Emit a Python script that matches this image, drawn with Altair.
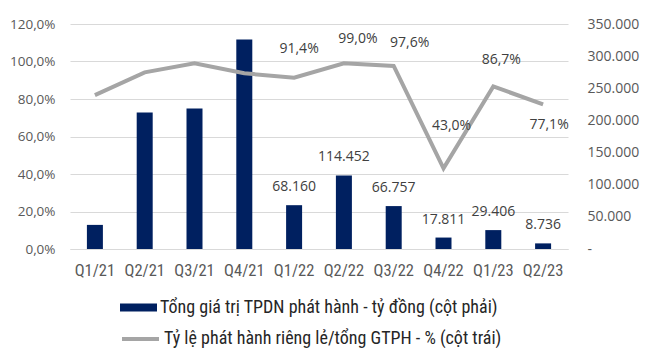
import altair as alt
import pandas as pd

quarters = ["Q1/21", "Q2/21", "Q3/21", "Q4/21", "Q1/22", "Q2/22", "Q3/22", "Q4/22", "Q1/23", "Q2/23"]
issuance = [37500, 212500, 218500, 326000, 68160, 114452, 66757, 17811, 29406, 8736]
private_ratio = [82.1, 94.2, 99.0, 93.7, 91.4, 99.0, 97.6, 43.0, 86.7, 77.1]
labeled = [False, False, False, False, True, True, True, True, True, True]
ratio_label_dx = [0, 0, 0, 0, 5, 14, 16, 8, 8, 6]
ratio_label_dy = [0, 0, 0, 0, -29, -24, -23, -42, -26, 21]

bar_name = "Tổng giá trị TPDN phát hành - tỷ đồng (cột phải)"
line_name = "Tỷ lệ phát hành riêng lẻ/tổng GTPH - % (cột trái)"

NAVY = "#002060"
GRAY = "#a5a5a5"
NARROW = "Liberation Sans Narrow, Arial Narrow, Roboto Condensed, Liberation Sans"
NUMFONT = "Open Sans"

df = pd.DataFrame({
    "quarter": quarters,
    "issuance": issuance,
    "ratio": private_ratio,
    "labeled": labeled,
    "bar_series": bar_name,
    "line_series": line_name,
})
df["ratio_text"] = [f"{v:.1f}".replace(".", ",") + "%" for v in private_ratio]

x = alt.X(
    "quarter:N",
    sort=quarters,
    scale=alt.Scale(paddingInner=0, paddingOuter=0),
    axis=alt.Axis(
        title=None, labelAngle=0, ticks=False, tickSize=0, domain=True,
        domainColor="#d9d9d9", domainWidth=1, labelFont=NARROW, labelFontSize=16.5,
        labelColor="#595959", labelPadding=13,
    ),
)

y_bar = alt.Y(
    "issuance:Q",
    scale=alt.Scale(domain=[0, 350000], nice=False),
    axis=alt.Axis(
        title=None, orient="right", grid=False, ticks=False, tickSize=0, domain=False,
        values=[0, 50000, 100000, 150000, 200000, 250000, 300000, 350000], tickCount=8,
        labelOverlap=False, labelFlush=False,
        labelExpr="datum.value == 0 ? '-' : format(datum.value, ',.0f')",
        labelFont=NUMFONT, labelFontSize=14, labelColor="#595959", labelPadding=19,
    ),
)

bars = alt.Chart(df).mark_bar(size=16).encode(
    x=x,
    y=y_bar,
    color=alt.Color(
        "bar_series:N",
        scale=alt.Scale(domain=[bar_name], range=[NAVY]),
        legend=alt.Legend(
            title=None, orient="none", legendX=50, legendY=265, padding=0,
            symbolType="M-1,-0.22H1V0.22H-1Z", symbolSize=1369, symbolStrokeWidth=0,
            labelFont=NARROW, labelFontSize=18, labelColor="#262626", labelLimit=0,
            labelOffset=3,
        ),
    ),
)

bar_labels = alt.Chart(df).transform_filter("datum.labeled").mark_text(
    dy=-18, baseline="middle", font=NUMFONT, fontSize=14, color="#404040"
).encode(
    x=x,
    y=alt.Y("issuance:Q"),
    text=alt.Text("issuance:Q", format=",.0f"),
)

bar_layer = alt.layer(bars, bar_labels)

y_line = alt.Y(
    "ratio:Q",
    scale=alt.Scale(domain=[0, 120], nice=False),
    axis=alt.Axis(
        title=None, orient="left", grid=True, gridColor="#d9d9d9", gridWidth=1,
        ticks=False, tickSize=0, domain=False,
        values=[0, 20, 40, 60, 80, 100, 120], tickCount=7,
        labelOverlap=False, labelFlush=False,
        labelExpr="format(datum.value, '.1f') + '%'",
        labelFont=NUMFONT, labelFontSize=13.5, labelColor="#595959", labelPadding=15,
    ),
)

line = alt.Chart(df).mark_line(strokeWidth=4, strokeCap="butt").encode(
    x=x,
    y=y_line,
    color=alt.Color(
        "line_series:N",
        scale=alt.Scale(domain=[line_name], range=[GRAY]),
        legend=alt.Legend(
            title=None, orient="none", legendX=50, legendY=294.5, padding=0,
            symbolType="stroke", symbolSize=1369, symbolStrokeWidth=4,
            labelFont=NARROW, labelFontSize=18, labelColor="#262626", labelLimit=0,
            labelOffset=3,
        ),
    ),
)

ratio_label_layers = []
for i, q in enumerate(quarters):
    if not labeled[i]:
        continue
    ratio_label_layers.append(
        alt.Chart(df).transform_filter(alt.datum.quarter == q).mark_text(
            dx=ratio_label_dx[i], dy=ratio_label_dy[i], baseline="middle",
            font=NUMFONT, fontSize=14, color="#404040",
        ).encode(x=x, y=alt.Y("ratio:Q"), text="ratio_text:N")
    )

line_layer = alt.layer(line, *ratio_label_layers)

chart = alt.layer(bar_layer, line_layer).resolve_scale(
    y="independent", color="independent"
).properties(
    width=498, height=225,
    padding={"left": 62, "top": 16, "right": 76, "bottom": 99},
    autosize=alt.AutoSizeParams(type="none"),
).configure(
    locale={"number": {"decimal": ",", "thousands": ".", "grouping": [3], "currency": ["", ""]}},
).configure_view(stroke=None)

chart.save("out.html", embed_options={"renderer": "svg", "actions": False})
